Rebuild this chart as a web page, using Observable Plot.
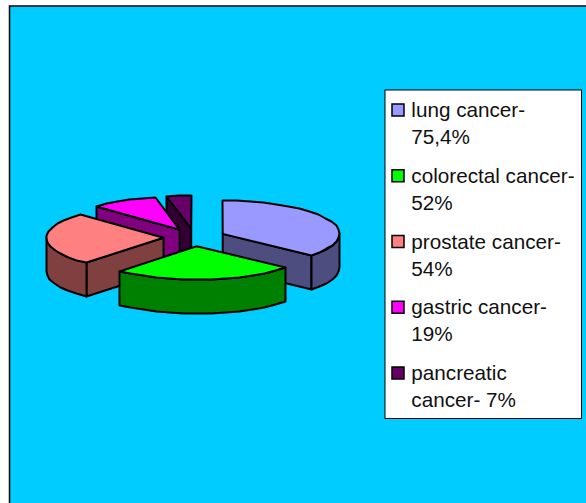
<!DOCTYPE html>
<html>
<head>
<meta charset="utf-8">
<style>html,body{margin:0;padding:0;background:#fff}svg{display:block}</style>
<script src="https://cdn.jsdelivr.net/npm/d3@7"></script>
<script src="https://cdn.jsdelivr.net/npm/@observablehq/plot@0.6"></script>
</head>
<body>
<script>
const categories = ["lung cancer", "colorectal cancer", "prostate cancer", "gastric cancer", "pancreatic cancer"];
const values = [75.4, 52, 54, 19, 7];
const labels = ["lung cancer-\n75,4%", "colorectal cancer-\n52%", "prostate cancer-\n54%", "gastric cancer-\n19%", "pancreatic\ncancer- 7%"];
const topColors = ["#9999FF", "#00FF00", "#FF8080", "#FF00FF", "#660066"];
const sideColors = ["#4D4D80", "#008000", "#804040", "#800080", "#330033"];
const paintOrder = [4, 3, 0, 2, 1];

// Projection of the tilted, exploded pie
const cx = 194, cy = 237, R = 117, tilt = 0.283, depth = 34, explode = 31, step = 7;
const total = d3.sum(values);
const rad = d => d * Math.PI / 180;
let acc = 0;
const slices = values.map((v, i) => {
  const a0 = acc; acc += v / total * 360;
  const mid = (a0 + acc) / 2;
  return {i, a0, a1: acc,
    ax: cx + explode * Math.sin(rad(mid)),
    ay: cy - explode * Math.cos(rad(mid)) * tilt};
});
const rim = (s, a, dz = 0) => ({
  x: Math.round(s.ax + R * Math.sin(rad(a))),
  y: Math.round(s.ay - R * tilt * Math.cos(rad(a)) + dz)
});
const arc = (s, a0, a1, dz = 0) => {
  const n = Math.max(1, Math.ceil((a1 - a0) / step)), pts = [];
  for (let k = 0; k <= n; ++k) pts.push(rim(s, a0 + (a1 - a0) * k / n, dz));
  return pts;
};

const faces = [];
const addFace = (id, fill, pts) => pts.forEach(p => faces.push({face: id, fill, x: p.x, y: p.y}));
for (const i of paintOrder) {
  const s = slices[i];
  const apex = {x: s.ax, y: s.ay}, apexLow = {x: s.ax, y: s.ay + depth};
  const side = sideColors[i];
  const sA0 = Math.sin(rad(s.a0)), sA1 = Math.sin(rad(s.a1));
  if (-sA0 > 1e-6) addFace(i + "start", side, [apex, rim(s, s.a0), rim(s, s.a0, depth), apexLow]);
  if (sA1 > 1e-6) addFace(i + "end", side, [apex, rim(s, s.a1), rim(s, s.a1, depth), apexLow]);
  const w0 = Math.max(s.a0, 90), w1 = Math.min(s.a1, 270);
  if (w1 > w0) addFace(i + "wall", side, [...arc(s, w0, w1), ...arc(s, w0, w1, depth).reverse()]);
  addFace(i + "top", topColors[i], [apex, ...arc(s, s.a0, s.a1)]);
}

// Legend layout
const legendRows = categories.map((c, i) => ({
  name: c, label: labels[i], fill: topColors[i],
  y: 110 + i * 65.75
}));

const chart = Plot.plot({
  width: 586, height: 503, margin: 0,
  x: {domain: [0, 586], range: [0, 586], axis: null},
  y: {domain: [0, 503], range: [0, 503], axis: null},
  color: {type: "identity"},
  style: {background: "#fff", fontFamily: "'Liberation Sans', Arial, sans-serif"},
  marks: [
    Plot.rect([{x1: 9.5, x2: 590, y1: 6, y2: 510}], {x1: "x1", x2: "x2", y1: "y1", y2: "y2", fill: "#00CCFF", stroke: "#000", strokeWidth: 1.5}),
    Plot.line(faces, {x: "x", y: "y", z: "face", fill: "fill", stroke: "#000", strokeWidth: 2, curve: "linear-closed", strokeLinejoin: "round"}),
    Plot.rect([{x1: 385, x2: 581.5, y1: 90, y2: 418.5}], {x1: "x1", x2: "x2", y1: "y1", y2: "y2", fill: "#fff", stroke: "#000", strokeWidth: 1}),
    Plot.rect(legendRows, {x1: () => 392, x2: () => 404, y1: d => d.y - 6, y2: d => d.y + 6, fill: "fill", stroke: "#000", strokeWidth: 1.5}),
    Plot.text(legendRows, {x: () => 410.8, y: d => d.y + 11.5, text: "label", textAnchor: "start", lineAnchor: "middle", lineHeight: 1.31, fontSize: 20.7, fill: "#111"})
  ]
});
document.body.appendChild(chart);
</script>
</body>
</html>
